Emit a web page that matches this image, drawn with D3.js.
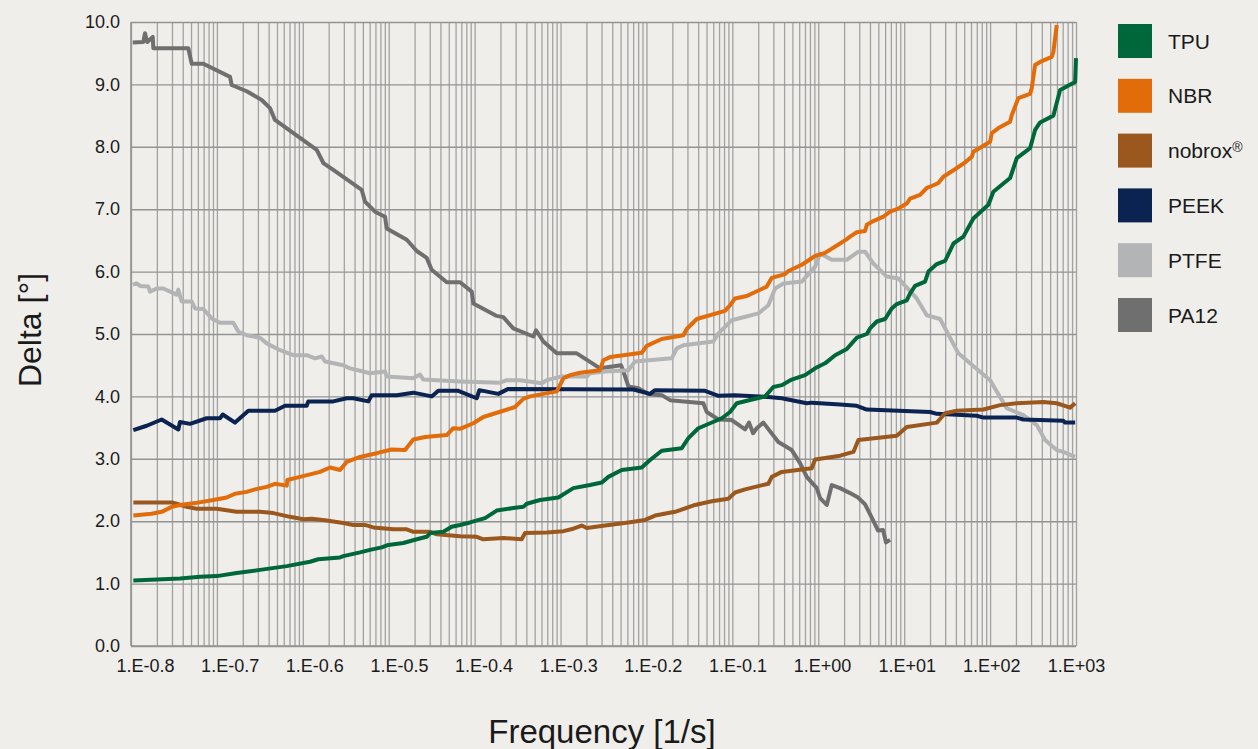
<!DOCTYPE html>
<html>
<head>
<meta charset="utf-8">
<script src="https://cdn.jsdelivr.net/npm/d3@7"></script>
<style>
    html, body { margin: 0; padding: 0; background: #efeeea; }
    svg text { font-family: "Liberation Sans", Arial, Helvetica, sans-serif; fill: #1a1a1a; }
</style>
</head>
<body>
<svg id="chart" width="1258" height="749"></svg>
<script>
/**********************************************
 *
 * Delta vs frequency chart
 *
 **********************************************/
const seriesNames = ["TPU", "NBR", "nobrox", "PEEK", "PTFE", "PA12"]
const seriesColors = ["#00673a", "#e36c0a", "#9b581e", "#0b2350", "#b3b4b6", "#6f6f6f"]
const xTickLabels = ["1.E-0.8", "1.E-0.7", "1.E-0.6", "1.E-0.5", "1.E-0.4", "1.E-0.3",
    "1.E-0.2", "1.E-0.1", "1.E+00", "1.E+01", "1.E+02", "1.E+03"]
const yTicks = [0, 1, 2, 3, 4, 5, 6, 7, 8, 9, 10]

// [log10 frequency, delta in deg]
const tpu = [[-7.973,1.05],[-7.43,1.08],[-7.197,1.11],[-7.002,1.12],[-6.77,1.17],[-6.498,1.22],[-6.187,1.28],
    [-5.916,1.35],[-5.82,1.39],[-5.567,1.42],[-5.529,1.44],[-5.334,1.50],[-5.218,1.54],[-5.082,1.58],[-5.005,1.62],
    [-4.83,1.65],[-4.674,1.71],[-4.558,1.75],[-4.519,1.81],[-4.364,1.83],[-4.267,1.91],[-4.17,1.94],[-4.054,1.98],
    [-3.879,2.05],[-3.743,2.17],[-3.55,2.21],[-3.433,2.23],[-3.394,2.28],[-3.239,2.34],[-3.026,2.38],[-2.851,2.53],
    [-2.657,2.58],[-2.52,2.62],[-2.443,2.71],[-2.288,2.82],[-2.055,2.86],[-1.958,2.98],[-1.822,3.13],[-1.589,3.17],
    [-1.512,3.33],[-1.396,3.49],[-1.123,3.65],[-1.027,3.75],[-0.949,3.89],[-0.619,4.0],[-0.523,4.15],[-0.425,4.18],
    [-0.309,4.27],[-0.154,4.34],[-0.037,4.45],[0.079,4.53],[0.196,4.66],[0.332,4.76],[0.39,4.85],[0.448,4.94],
    [0.565,5.0],[0.603,5.09],[0.681,5.20],[0.778,5.24],[0.856,5.41],[0.914,5.48],[1.03,5.54],[1.069,5.65],
    [1.127,5.77],[1.243,5.84],[1.282,6.0],[1.38,6.12],[1.476,6.17],[1.573,6.45],[1.689,6.56],[1.805,6.85],
    [1.98,7.07],[2.038,7.28],[2.233,7.50],[2.311,7.82],[2.466,7.98],[2.524,8.27],[2.582,8.39],[2.737,8.50],
    [2.815,8.91],[2.99,9.04],[3.0,9.42]]
const nbr = [[-7.973,2.09],[-7.759,2.12],[-7.643,2.15],[-7.526,2.23],[-7.43,2.26],[-7.255,2.29],[-7.042,2.34],
    [-6.886,2.38],[-6.789,2.44],[-6.653,2.47],[-6.556,2.51],[-6.42,2.55],[-6.324,2.60],[-6.187,2.57],[-6.18,2.66],
    [-6.033,2.71],[-5.8,2.79],[-5.683,2.86],[-5.567,2.82],[-5.489,2.95],[-5.334,3.03],[-5.14,3.09],[-4.965,3.15],
    [-4.81,3.14],[-4.714,3.31],[-4.577,3.35],[-4.325,3.38],[-4.248,3.49],[-4.17,3.48],[-4.015,3.57],[-3.899,3.67],
    [-3.666,3.77],[-3.53,3.83],[-3.433,3.96],[-3.355,4.0],[-3.044,4.08],[-2.967,4.29],[-2.889,4.34],[-2.773,4.38],
    [-2.54,4.42],[-2.502,4.58],[-2.424,4.63],[-2.269,4.66],[-2.055,4.70],[-1.997,4.81],[-1.822,4.92],[-1.57,4.98],
    [-1.531,5.08],[-1.414,5.24],[-1.085,5.37],[-1.027,5.46],[-0.969,5.57],[-0.832,5.61],[-0.6,5.76],[-0.541,5.90],
    [-0.387,5.96],[-0.348,6.01],[-0.192,6.11],[-0.037,6.25],[0.079,6.30],[0.254,6.45],[0.332,6.52],[0.37,6.56],
    [0.448,6.63],[0.545,6.65],[0.565,6.75],[0.641,6.81],[0.758,6.88],[0.836,6.96],[0.932,7.01],[1.03,7.09],
    [1.069,7.17],[1.185,7.23],[1.263,7.34],[1.302,7.36],[1.398,7.42],[1.456,7.52],[1.592,7.64],[1.709,7.75],
    [1.787,7.84],[1.805,7.92],[1.903,8.0],[2.0,8.08],[2.02,8.22],[2.097,8.30],[2.233,8.40],[2.253,8.51],
    [2.329,8.78],[2.466,8.85],[2.485,8.94],[2.524,9.31],[2.582,9.36],[2.718,9.44],[2.737,9.52],[2.776,9.95]]
const nobrox = [[-7.973,2.30],[-7.526,2.30],[-7.468,2.28],[-7.352,2.23],[-7.235,2.20],[-7.002,2.20],[-6.77,2.15],
    [-6.498,2.15],[-6.343,2.13],[-6.149,2.07],[-5.994,2.03],[-5.896,2.04],[-5.722,2.01],[-5.529,1.97],[-5.412,1.94],
    [-5.276,1.94],[-5.179,1.90],[-4.946,1.87],[-4.79,1.87],[-4.714,1.83],[-4.519,1.83],[-4.441,1.79],[-4.17,1.76],
    [-3.976,1.75],[-3.899,1.71],[-3.666,1.73],[-3.452,1.71],[-3.413,1.81],[-3.161,1.82],[-2.967,1.84],[-2.851,1.88],
    [-2.753,1.93],[-2.695,1.89],[-2.482,1.93],[-2.211,1.98],[-2.016,2.02],[-1.9,2.09],[-1.667,2.15],[-1.434,2.26],
    [-1.24,2.32],[-1.047,2.36],[-0.969,2.46],[-0.852,2.51],[-0.581,2.60],[-0.541,2.71],[-0.425,2.79],[-0.076,2.85],
    [-0.037,2.99],[0.254,3.05],[0.409,3.11],[0.467,3.30],[0.914,3.37],[1.03,3.51],[1.38,3.58],[1.476,3.73],
    [1.612,3.77],[1.922,3.79],[2.116,3.86],[2.311,3.89],[2.62,3.91],[2.776,3.89],[2.931,3.82],[2.99,3.89]]
const peek = [[-7.973,3.46],[-7.817,3.53],[-7.643,3.63],[-7.449,3.47],[-7.43,3.59],[-7.313,3.56],[-7.119,3.65],
    [-6.964,3.65],[-6.932,3.71],[-6.789,3.58],[-6.634,3.77],[-6.324,3.77],[-6.207,3.85],[-5.955,3.85],[-5.936,3.92],
    [-5.645,3.92],[-5.489,3.97],[-5.412,3.97],[-5.237,3.92],[-5.198,4.02],[-4.907,4.02],[-4.714,4.06],[-4.5,4.0],
    [-4.423,4.09],[-4.19,4.09],[-3.976,3.97],[-3.945,4.10],[-3.724,4.04],[-3.608,4.12],[-2.152,4.11],[-1.958,4.04],
    [-1.9,4.10],[-1.318,4.09],[-1.163,4.01],[-0.969,4.02],[-0.581,3.99],[-0.425,3.97],[-0.134,3.89],[-0.076,3.90],
    [0.254,3.87],[0.448,3.85],[0.565,3.79],[1.302,3.75],[1.38,3.72],[1.845,3.69],[1.922,3.66],[2.311,3.66],
    [2.387,3.63],[2.853,3.61],[2.873,3.58],[2.99,3.58]]
const ptfe = [[-7.98,5.79],[-7.934,5.81],[-7.895,5.77],[-7.799,5.76],[-7.779,5.68],[-7.701,5.73],[-7.624,5.73],
    [-7.468,5.63],[-7.449,5.71],[-7.41,5.52],[-7.293,5.52],[-7.255,5.41],[-7.158,5.40],[-7.061,5.25],[-6.964,5.18],
    [-6.809,5.18],[-6.751,5.04],[-6.653,4.98],[-6.498,4.94],[-6.42,4.85],[-6.265,4.74],[-6.111,4.66],[-5.955,4.66],
    [-5.858,4.61],[-5.78,4.64],[-5.742,4.56],[-5.529,4.50],[-5.451,4.45],[-5.334,4.41],[-5.218,4.37],[-5.043,4.40],
    [-5.023,4.32],[-4.714,4.29],[-4.636,4.35],[-4.597,4.27],[-4.17,4.24],[-3.704,4.22],[-3.626,4.26],[-3.472,4.26],
    [-3.219,4.21],[-3.161,4.26],[-2.986,4.32],[-2.695,4.32],[-2.657,4.37],[-2.482,4.40],[-2.211,4.42],[-2.133,4.56],
    [-1.705,4.61],[-1.647,4.77],[-1.57,4.82],[-1.221,4.88],[-1.163,5.01],[-1.007,5.22],[-0.697,5.33],[-0.581,5.46],
    [-0.503,5.73],[-0.406,5.81],[-0.192,5.84],[-0.037,6.08],[0.021,6.29],[0.157,6.19],[0.332,6.19],[0.467,6.32],
    [0.545,6.32],[0.641,6.13],[0.797,5.92],[0.932,5.89],[1.146,5.57],[1.263,5.30],[1.418,5.24],[1.631,4.69],
    [1.767,4.53],[2.0,4.26],[2.194,3.81],[2.387,3.70],[2.544,3.54],[2.64,3.30],[2.776,3.14],[2.853,3.11],[2.99,3.03]]
const pa12 = [[-7.98,9.67],[-7.857,9.68],[-7.837,9.82],[-7.81,9.68],[-7.747,9.76],[-7.74,9.58],[-7.333,9.58],
    [-7.293,9.33],[-7.158,9.33],[-6.847,9.12],[-6.828,8.99],[-6.653,8.89],[-6.478,8.75],[-6.382,8.62],[-6.324,8.43],
    [-5.838,7.95],[-5.761,7.74],[-5.645,7.63],[-5.314,7.31],[-5.276,7.12],[-5.16,6.96],[-5.043,6.88],[-5.023,6.69],
    [-4.79,6.51],[-4.674,6.33],[-4.558,6.22],[-4.5,6.03],[-4.325,5.83],[-4.17,5.83],[-4.034,5.68],[-4.015,5.49],
    [-3.743,5.29],[-3.666,5.27],[-3.55,5.09],[-3.317,4.96],[-3.285,5.06],[-3.2,4.88],[-3.044,4.69],[-2.811,4.69],
    [-2.54,4.45],[-2.296,4.5],[-2.269,4.40],[-2.21,4.16],[-2.094,4.13],[-1.978,4.04],[-1.822,4.02],[-1.725,3.94],
    [-1.338,3.89],[-1.298,3.75],[-1.163,3.63],[-1.007,3.62],[-0.852,3.47],[-0.806,3.58],[-0.759,3.41],[-0.716,3.49],
    [-0.639,3.58],[-0.465,3.27],[-0.309,3.14],[-0.212,2.93],[-0.134,2.71],[-0.017,2.53],[0.021,2.37],[0.099,2.26],
    [0.157,2.58],[0.254,2.53],[0.37,2.45],[0.463,2.38],[0.545,2.27],[0.626,2.05],[0.696,1.85],[0.754,1.86],
    [0.789,1.66],[0.836,1.7]]

const seriesData = [tpu, nbr, nobrox, peek, ptfe, pa12]

const width = 1258
const height = 749
const margin = { top: 22, left: 131, right: 182, bottom: 103 }
const innerWidth = width - margin.left - margin.right
const innerHeight = height - margin.top - margin.bottom

const svg = d3.select("#chart")
svg.append("rect").attr("width", width).attr("height", height).attr("fill", "#efeeea")

const g = svg.append("g").attr("transform", `translate(${margin.left}, ${margin.top})`)

// Scales
const xScale = d3.scaleLog().domain([1e-8, 1e3]).range([0, innerWidth])
const yScale = d3.scaleLinear().domain([0, 10]).range([innerHeight, 0])
// the printed labels sit a bit off the decade lines in the original
const xLabelScale = d3.scalePoint().domain(xTickLabels).range([14, innerWidth])

// minor + major log grid values
const gridVals = []
for (let k = -8; k < 3; k++) {
    for (let m = 1; m < 10; m++) gridVals.push(m * Math.pow(10, k))
}
gridVals.push(1e3)

// Grids (no text in these)
g.append("g")
    .attr("class", "x grid")
    .attr("transform", `translate(0, ${innerHeight})`)
    .call(d3.axisBottom(xScale).tickValues(gridVals).tickSize(-innerHeight).tickFormat(""))
    .call(s => s.select(".domain").remove())
    .call(s => s.selectAll("text").remove())
    .selectAll("line").attr("stroke", "#a2a2a2").attr("stroke-width", 1.3)

g.append("g")
    .attr("class", "y grid")
    .call(d3.axisLeft(yScale).tickValues(yTicks).tickSize(-innerWidth).tickFormat(""))
    .call(s => s.select(".domain").remove())
    .call(s => s.selectAll("text").remove())
    .selectAll("line").attr("stroke", "#939393").attr("stroke-width", 1.4)

// axis lines
g.append("line").attr("x1", 0).attr("x2", 0).attr("y1", 0).attr("y2", innerHeight)
    .attr("stroke", "#939393").attr("stroke-width", 1.6)
g.append("line").attr("x1", 0).attr("x2", innerWidth).attr("y1", innerHeight).attr("y2", innerHeight)
    .attr("stroke", "#939393").attr("stroke-width", 1.6)

// Tick labels
g.append("g")
    .attr("class", "y axis")
    .call(d3.axisLeft(yScale).tickValues(yTicks).tickSize(0).tickPadding(11).tickFormat(d3.format(".1f")))
    .call(s => s.select(".domain").remove())
    .selectAll("text")
    .attr("text-anchor", "end")

g.append("g")
    .attr("class", "x axis")
    .attr("transform", `translate(0, ${innerHeight})`)
    .call(d3.axisBottom(xLabelScale).tickSize(0).tickPadding(13))
    .call(s => s.select(".domain").remove())
    .selectAll("text")
    .attr("text-anchor", "middle")

g.selectAll(".axis").attr("font-family", null).attr("font-size", null)
g.selectAll(".axis text")
    .attr("font-size", 18)
    .attr("font-family", "Liberation Sans, Arial, sans-serif")
    .style("fill", "#1a1a1a")

// Lines
const line = d3.line()
    .x(d => xScale(Math.pow(10, d[0])))
    .y(d => yScale(d[1]))

// TPU drawn last so it sits on top
for (let i = seriesData.length - 1; i >= 0; i--) {
    g.append("path")
        .datum(seriesData[i])
        .attr("class", "line")
        .attr("fill", "none")
        .attr("stroke", seriesColors[i])
        .attr("stroke-width", 4)
        .attr("stroke-linejoin", "round")
        .attr("d", line)
}

// Axis titles
svg.append("text")
    .attr("x", 602)
    .attr("y", 743)
    .attr("text-anchor", "middle")
    .attr("font-size", 33)
    .text("Frequency [1/s]")

svg.append("text")
    .attr("transform", "translate(41, 330) rotate(-90)")
    .attr("text-anchor", "middle")
    .attr("font-size", 32)
    .text("Delta [°]")

// Legend
const legend = svg.append("g").attr("transform", "translate(1118, 24)")
const items = legend.selectAll("g")
    .data(seriesNames)
    .join("g")
    .attr("transform", (d, i) => `translate(0, ${i * 54.8})`)
items.append("rect")
    .attr("width", 34)
    .attr("height", 34)
    .attr("fill", (d, i) => seriesColors[i])
const labels = items.append("text")
    .attr("x", 50)
    .attr("y", 17)
    .attr("dy", "0.36em")
    .attr("font-size", 21)
    .text(d => d)
labels.filter(d => d === "nobrox")
    .append("tspan")
    .attr("dy", "-0.45em")
    .attr("font-size", 14)
    .text("®")
</script>
</body>
</html>
